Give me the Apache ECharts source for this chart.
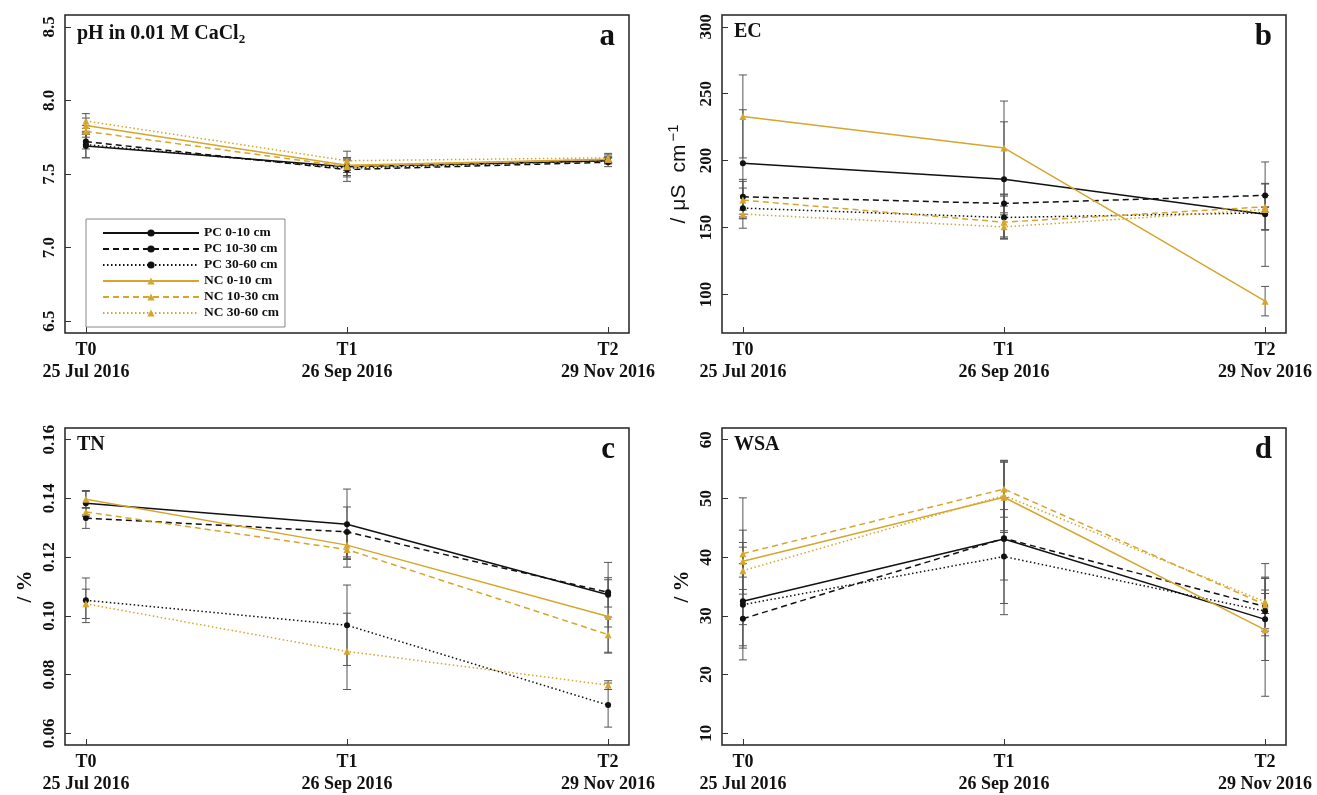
<!DOCTYPE html>
<html>
<head>
<meta charset="utf-8">
<script src="https://cdn.jsdelivr.net/npm/echarts@6/dist/echarts.min.js"></script>
<style>
  html, body { margin: 0; padding: 0; background: #fff; }
  #chart { width: 1317px; height: 795px; }
</style>
</head>
<body>
<div id="chart"></div>
<script>
// Sampling dates (x positions 1..3)
const timePoints = [1, 2, 3];
const timeCodes = ['T0', 'T1', 'T2'];
const sampleDates = ['25 Jul 2016', '26 Sep 2016', '29 Nov 2016'];

// Treatment / depth combinations
const seriesNames = ['PC 0-10 cm', 'PC 10-30 cm', 'PC 30-60 cm', 'NC 0-10 cm', 'NC 10-30 cm', 'NC 30-60 cm'];

// (a) pH in 0.01 M CaCl2 — means and error half-widths per series, T0..T2
const phMeans = [
  [7.69, 7.55, 7.59],
  [7.72, 7.53, 7.58],
  [7.70, 7.54, 7.59],
  [7.83, 7.56, 7.60],
  [7.79, 7.55, 7.60],
  [7.86, 7.59, 7.61]
];
const phErrors = [
  [0.08, 0.04, 0.02],
  [0.05, 0.08, 0.03],
  [0.09, 0.06, 0.02],
  [0.05, 0.05, 0.03],
  [0.04, 0.06, 0.02],
  [0.05, 0.065, 0.03]
];

// (b) EC, µS cm-1
const ecMeans = [
  [198, 186, 160],
  [173, 168, 174],
  [164.5, 157.5, 161],
  [233, 209.5, 95],
  [170.5, 154, 165.5],
  [160, 150.5, 163.5]
];
const ecErrors = [
  [40, 43, 39],
  [13, 7, 9],
  [15, 16, 13],
  [31, 35, 11],
  [14, 12, 17],
  [3, 9, 2]
];

// (c) TN, %
const tnMeans = [
  [0.1384, 0.1312, 0.1072],
  [0.1333, 0.1286, 0.1080],
  [0.1053, 0.0968, 0.0696],
  [0.1397, 0.1241, 0.0998],
  [0.1354, 0.1226, 0.0936],
  [0.1041, 0.0879, 0.0764]
];
const tnErrors = [
  [0.004, 0.012, 0.011],
  [0.0035, 0.0085, 0.005],
  [0.0076, 0.0137, 0.0075],
  [0.003, 0.0045, 0.0125],
  [0.0015, 0.006, 0.006],
  [0.005, 0.013, 0.0015]
];

// (d) WSA, %
const wsaMeans = [
  [32.5, 43.1, 29.4],
  [29.5, 43.2, 31.6],
  [31.9, 40.1, 30.8],
  [39.3, 50.2, 27.6],
  [40.6, 51.6, 31.9],
  [37.7, 50.5, 32.4]
];
const wsaErrors = [
  [10, 7, 7],
  [5, 13, 5],
  [7, 8, 3],
  [10.8, 6, 11.3],
  [4, 4.8, 4.5],
  [4, 6, 2]
];

// Y tick values and their printed labels
const phTicks = [6.5, 7.0, 7.5, 8.0, 8.5];
const phTickLabels = ['6.5', '7.0', '7.5', '8.0', '8.5'];
const ecTicks = [100, 150, 200, 250, 300];
const ecTickLabels = ['100', '150', '200', '250', '300'];
const tnTicks = [0.06, 0.08, 0.10, 0.12, 0.14, 0.16];
const tnTickLabels = ['0.06', '0.08', '0.10', '0.12', '0.14', '0.16'];
const wsaTicks = [10, 20, 30, 40, 50, 60];
const wsaTickLabels = ['10', '20', '30', '40', '50', '60'];

const SERIF = "'Liberation Serif', 'Times New Roman', serif";
const SANS = "'Liberation Sans', Arial, sans-serif";
const BLACK = '#111111';
const GOLD = '#D6A62C';
const lineTypes = ['solid', [6, 4], [1.5, 2.5]];
const PLOT_W = 564;

const panels = [
  { left: 65,  top: 15,  height: 318, means: phMeans,  errors: phErrors,  ticks: phTicks,  labels: phTickLabels,  min: 6.42,  max: 8.58,
    title: '{m|pH in 0.01 M CaCl}{s|2}', letter: 'a', yName: '' },
  { left: 722, top: 15,  height: 318, means: ecMeans,  errors: ecErrors,  ticks: ecTicks,  labels: ecTickLabels,  min: 71.2,  max: 308.8,
    title: '{m|EC}', letter: 'b', yName: '{n|/}{g1| }{n|μS}{g2| }{n|cm}{g3| }{sup|−1}' },
  { left: 65,  top: 428, height: 319, means: tnMeans,  errors: tnErrors,  ticks: tnTicks,  labels: tnTickLabels,  min: 0.056, max: 0.164,
    title: '{m|TN}', letter: 'c', yName: '{b|/ %}' },
  { left: 722, top: 428, height: 319, means: wsaMeans, errors: wsaErrors, ticks: wsaTicks, labels: wsaTickLabels, min: 8,     max: 62,
    title: '{m|WSA}', letter: 'd', yName: '{b|/ %}' }
];

function nearestIndex(arr, v) {
  let best = 0;
  for (let i = 1; i < arr.length; i++) {
    if (Math.abs(arr[i] - v) < Math.abs(arr[best] - v)) best = i;
  }
  return best;
}

function renderErrorBar(params, api) {
  const x = api.value(0);
  const pLo = api.coord([x, api.value(1)]);
  const pHi = api.coord([x, api.value(2)]);
  const w = 4;
  const style = { stroke: '#555', lineWidth: 1 };
  return {
    type: 'group',
    children: [
      { type: 'line', shape: { x1: pHi[0], y1: pHi[1], x2: pLo[0], y2: pLo[1] }, style: style },
      { type: 'line', shape: { x1: pHi[0] - w, y1: pHi[1], x2: pHi[0] + w, y2: pHi[1] }, style: style },
      { type: 'line', shape: { x1: pLo[0] - w, y1: pLo[1], x2: pLo[0] + w, y2: pLo[1] }, style: style }
    ]
  };
}

const grids = [], xAxes = [], yAxes = [], series = [], titles = [];

panels.forEach((p, gi) => {
  grids.push({
    left: p.left, top: p.top, width: PLOT_W, height: p.height,
    show: true, borderColor: '#222', borderWidth: 1.5, backgroundColor: 'rgba(0,0,0,0)'
  });

  xAxes.push({
    type: 'value', gridIndex: gi, min: 0.92, max: 3.08,
    axisLine: { show: false }, splitLine: { show: false },
    axisTick: { show: true, inside: true, length: 6, customValues: timePoints, lineStyle: { color: '#333', width: 1 } },
    axisLabel: {
      customValues: timePoints, margin: 6,
      formatter: v => { const i = nearestIndex(timePoints, v); return timeCodes[i] + '\n' + sampleDates[i]; },
      fontFamily: SERIF, fontWeight: 'bold', fontSize: 18, lineHeight: 22, color: BLACK
    }
  });

  yAxes.push({
    type: 'value', gridIndex: gi, min: p.min, max: p.max,
    axisLine: { show: false }, splitLine: { show: false },
    axisTick: { show: true, inside: true, length: 6, customValues: p.ticks, lineStyle: { color: '#333', width: 1 } },
    axisLabel: {
      customValues: p.ticks, rotate: 90, margin: 7,
      formatter: v => p.labels[nearestIndex(p.ticks, v)],
      fontFamily: SERIF, fontWeight: 'bold', fontSize: 17, color: BLACK
    },
    name: p.yName, nameLocation: 'middle', nameGap: 29, nameRotate: 90,
    nameTextStyle: {
      color: BLACK,
      rich: {
        n: { fontFamily: SANS, fontSize: 21, color: BLACK },
        g1: { width: 7 },
        g2: { width: 12 },
        g3: { width: 3 },
        sup: { fontFamily: SANS, fontSize: 15, color: BLACK, verticalAlign: 'top', padding: [0, 0, 12, 0] },
        b: { fontFamily: SERIF, fontWeight: 'bold', fontSize: 21, color: BLACK }
      }
    }
  });

  // error bars first so the lines sit on top
  const barData = [];
  p.means.forEach((row, k) => {
    row.forEach((m, t) => {
      barData.push([timePoints[t], m - p.errors[k][t], m + p.errors[k][t]]);
    });
  });
  series.push({
    type: 'custom', xAxisIndex: gi, yAxisIndex: gi, renderItem: renderErrorBar,
    data: barData, encode: { x: 0, y: [1, 2] }, z: 1, silent: true
  });

  p.means.forEach((row, k) => {
    const isPC = k < 3;
    const color = isPC ? BLACK : GOLD;
    series.push({
      name: seriesNames[k], type: 'line', xAxisIndex: gi, yAxisIndex: gi,
      data: row.map((v, t) => [timePoints[t], v]),
      symbol: isPC ? 'circle' : 'triangle',
      symbolSize: isPC ? 6 : 7,
      lineStyle: { color: color, width: 1.5, type: lineTypes[k % 3] },
      itemStyle: { color: color },
      z: 2, silent: true
    });
  });

  titles.push({
    text: p.title, left: p.left + 12, top: p.top + 7, padding: 0,
    textStyle: {
      rich: {
        m: { fontFamily: SERIF, fontWeight: 'bold', fontSize: 20, color: BLACK },
        s: { fontFamily: SERIF, fontWeight: 'bold', fontSize: 13, color: BLACK, verticalAlign: 'bottom', padding: [11, 0, 0, 0] }
      }
    }
  });
  titles.push({
    text: p.letter, right: 1317 - (p.left + PLOT_W - 14), top: p.top + 6, padding: 0,
    textStyle: { fontFamily: SERIF, fontWeight: 'bold', fontSize: 31, color: BLACK }
  });
});

const chart = echarts.init(document.getElementById('chart'), null, { renderer: 'canvas' });
chart.setOption({
  backgroundColor: '#fff',
  animation: false,
  title: titles,
  grid: grids,
  xAxis: xAxes,
  yAxis: yAxes,
  legend: {
    data: seriesNames, orient: 'vertical', left: 86, top: 219,
    itemWidth: 96, itemHeight: 9, itemGap: 2,
    padding: [7, 6, 7, 16],
    borderColor: '#888', borderWidth: 1, selectedMode: false,
    textStyle: { fontFamily: SERIF, fontWeight: 'bold', fontSize: 13.5, lineHeight: 13, color: BLACK }
  },
  series: series
});
</script>
</body>
</html>
